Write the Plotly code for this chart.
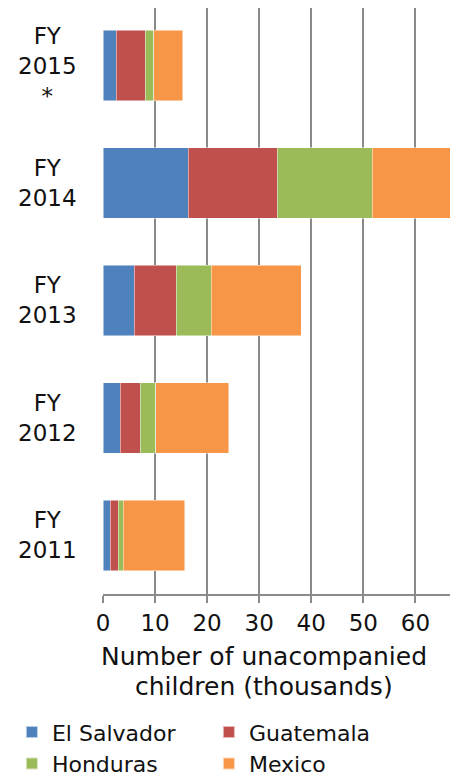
import plotly.graph_objects as go

categories = ["FY<br>2011", "FY<br>2012", "FY<br>2013", "FY<br>2014", "FY<br>2015<br>*"]
el_salvador = [1.39, 3.31, 5.99, 16.40, 2.55]
guatemala = [1.57, 3.84, 8.07, 17.06, 5.57]
honduras = [0.97, 3.00, 6.75, 18.24, 1.59]
mexico = [11.77, 13.97, 17.24, 15.63, 5.65]
x_ticks = [0, 10, 20, 30, 40, 50, 60]
x_title = ["Number of unacompanied", "children (thousands)"]

series = [
    ("El Salvador", el_salvador, "#4F81BD"),
    ("Guatemala", guatemala, "#C0504D"),
    ("Honduras", honduras, "#9BBB59"),
    ("Mexico", mexico, "#F79646"),
]

FONT = "DejaVu Sans"
fig = go.Figure()
for name, vals, color in series:
    fig.add_trace(go.Bar(
        y=list(range(len(categories))), x=vals, name=name, orientation="h",
        marker=dict(color=color, line=dict(color="rgba(255,255,255,0.6)", width=0.8)),
        width=0.6,
    ))

for i, c in enumerate(categories):
    fig.add_annotation(x=-0.156, xref="paper", y=i, yref="y", text=c,
                       showarrow=False, xanchor="center", yanchor="middle",
                       align="center", font=dict(family=FONT, size=23, color="#111"))

for j, line in enumerate(x_title):
    fig.add_annotation(x=0.455, xref="paper", y=-0.106 - j * 0.051, yref="paper",
                       text=line, showarrow=False, xanchor="center", yanchor="middle",
                       font=dict(family=FONT, size=25, color="#111"))

fig.update_layout(
    barmode="stack",
    width=450, height=770,
    margin=dict(l=95, r=2, t=0, b=184, autoexpand=False),
    paper_bgcolor="white", plot_bgcolor="white",
    font=dict(family=FONT, size=22, color="#111"),
    showlegend=True,
    legend=dict(orientation="h", x=-0.258, xanchor="left", y=-0.200, yanchor="top",
                entrywidth=152, entrywidthmode="pixels", tracegroupgap=0,
                font=dict(family=FONT, size=22, color="#111"),
                traceorder="normal", itemsizing="constant"),
    xaxis=dict(range=[0, 67.8], tickvals=x_ticks, showgrid=True, gridcolor="#8a8a8a",
               gridwidth=2, showline=True, linecolor="#8a8a8a", linewidth=2,
               ticks="outside", ticklen=7, tickwidth=2, tickcolor="#8a8a8a",
               zeroline=False, tickfont=dict(family=FONT, size=23, color="#111")),
    yaxis=dict(range=[-0.5, 4.49], showticklabels=False, showgrid=False,
               zeroline=False, showline=False),
)

fig.write_html("out.html")
